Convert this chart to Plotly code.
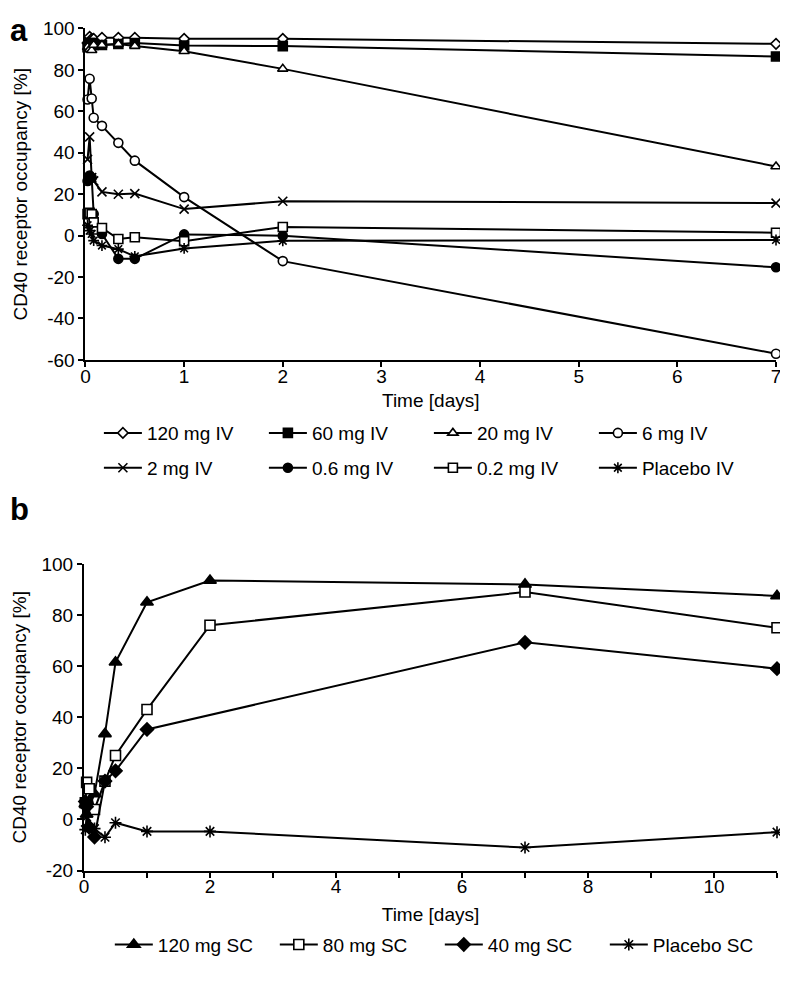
import plotly.graph_objects as go

# ---------------- data ----------------
time_iv = [0.021, 0.042, 0.063, 0.083, 0.167, 0.333, 0.5, 1, 2, 7]
iv_120 = [93, 96, 95, 95, 95.5, 95.5, 95.5, 95, 95, 92.6]
iv_60 = [91, 93, 93, 92, 92, 92.5, 93, 91.8, 91.5, 86.5]
iv_20 = [91, 90, 89.5, 92, 92, 92.5, 91.5, 89, 80.5, 33.4]
iv_6 = [65.7, 75.7, 66.2, 56.9, 53, 44.8, 36.2, 18.6, -12.3, -57]
iv_2 = [36.8, 47.7, 28, 26.4, 21.1, 20, 20.3, 12.8, 16.6, 15.7]
iv_06 = [26.4, 29, 28, 10.4, 0.8, -11.2, -11.2, 0.6, 0, -15.3]
iv_02 = [10.4, 11, 10.4, 6.4, 3.7, -1.6, -0.8, -2.7, 4.2, 1.4]
iv_pl = [5, 2.4, 0.8, -2.4, -4.8, -6.5, -10, -6.2, -2.5, -2.1]

time_sc = [0.021, 0.042, 0.083, 0.167, 0.333, 0.5, 1, 2, 7, 11]
sc_120 = [6, 2, 5, 10, 33.5, 61.5, 85, 93.5, 92, 87.5]
sc_80 = [6.5, 14.5, 12, 3.9, 15, 25, 43, 76, 89, 75]
sc_40 = [7, 5, -3, -6.9, 15, 19, 35.2, None, 69.3, 59]
sc_pl = [-4, 1, -3.5, -3.6, -7, -1.3, -4.7, -4.7, -11, -5]

names_iv = ["120 mg IV", "60 mg IV", "20 mg IV", "6 mg IV",
            "2 mg IV", "0.6 mg IV", "0.2 mg IV", "Placebo IV"]
names_sc = ["120 mg SC", "80 mg SC", "40 mg SC", "Placebo SC"]

a_xticks = [0, 1, 2, 3, 4, 5, 6, 7]
a_xlabels = ["0", "1", "2", "3", "4", "5", "6", "7"]
a_yticks = [100, 80, 60, 40, 20, 0, -20, -40, -60]
a_ylabels = ["100", "80", "60", "40", "20", "0", "-20", "-40", "-60"]
b_xticks = [0, 1, 2, 3, 4, 5, 6, 7, 8, 9, 10, 11]
b_xlabels = ["0", "", "2", "", "4", "", "6", "", "8", "", "10", ""]
b_yticks = [100, 80, 60, 40, 20, 0, -20]
b_ylabels = ["100", "80", "60", "40", "20", "0", "-20"]

# ---------------- layout geometry ----------------
# page coordinates (window 788x984); the page body has an 8px margin
OFF = 8
W, H = 788 - OFF, 984 - 2 * OFF
L, R, T, B = 84 - OFF, 782 - OFF, 20 - OFF, 871 - OFF
PW, PH = R - L, B - T


def fx(px):
    return (px - OFF - L) / PW


def fy(py):
    return (B - (py - OFF)) / PH


FONT = "Liberation Sans, Arial, sans-serif"
FS = 19
BLACK = "black"

fig = go.Figure()

iv_series = [iv_120, iv_60, iv_20, iv_6, iv_2, iv_06, iv_02, iv_pl]
iv_styles = [
    dict(symbol="diamond", size=8, color="white"),
    dict(symbol="square", size=9, color=BLACK),
    dict(symbol="triangle-up", size=9, color="white"),
    dict(symbol="circle", size=9, color="white"),
    dict(symbol="x-thin-open", size=9, color=BLACK),
    dict(symbol="circle", size=9, color=BLACK),
    dict(symbol="square", size=9, color="white"),
    dict(symbol="asterisk-open", size=9, color=BLACK),
]
for i, (ys, st, nm) in enumerate(zip(iv_series, iv_styles, names_iv)):
    fig.add_trace(go.Scatter(
        x=time_iv, y=ys, name=nm, mode="lines+markers", cliponaxis=False,
        line=dict(color=BLACK, width=2),
        marker=dict(symbol=st["symbol"], size=st["size"], color=st["color"],
                    line=dict(color=BLACK, width=1.6)),
        xaxis="x", yaxis="y",
        legend="legend" if i < 4 else "legend2",
    ))

sc_series = [sc_120, sc_80, sc_40, sc_pl]
sc_styles = [
    dict(symbol="triangle-up", size=11, color=BLACK),
    dict(symbol="square", size=10, color="white"),
    dict(symbol="diamond", size=10, color=BLACK),
    dict(symbol="asterisk-open", size=10, color=BLACK),
]
for ys, st, nm in zip(sc_series, sc_styles, names_sc):
    fig.add_trace(go.Scatter(
        x=time_sc, y=ys, name=nm, mode="lines+markers", connectgaps=True,
        cliponaxis=False,
        line=dict(color=BLACK, width=2),
        marker=dict(symbol=st["symbol"], size=st["size"], color=st["color"],
                    line=dict(color=BLACK, width=1.6)),
        xaxis="x2", yaxis="y2", legend="legend3",
    ))

axis_common = dict(
    showline=True, linecolor=BLACK, linewidth=2, showgrid=False, zeroline=False,
    ticks="outside", ticklen=5, tickwidth=2, tickcolor=BLACK,
    tickfont=dict(family=FONT, size=FS, color=BLACK),
    mirror=False,
)
title_font = dict(family=FONT, size=FS, color=BLACK)

legend_common = dict(
    orientation="h", font=dict(family=FONT, size=FS, color=BLACK),
    itemwidth=38, entrywidth=112, entrywidthmode="pixels",
    bgcolor="rgba(0,0,0,0)", borderwidth=0, xanchor="left", yanchor="middle",
    traceorder="normal", itemclick=False, itemdoubleclick=False,
)

fig.update_layout(
    width=W, height=H,
    margin=dict(l=L, r=W - R, t=T, b=H - B),
    paper_bgcolor="white", plot_bgcolor="white",
    font=dict(family=FONT, size=FS, color=BLACK),
    xaxis=dict(axis_common, domain=[fx(85.5), fx(781)], range=[0, 7],
               tickvals=a_xticks, ticktext=a_xlabels, anchor="y",
               ticklabelstandoff=-7,
               title=dict(text="Time [days]", standoff=8, font=title_font)),
    yaxis=dict(axis_common, domain=[fy(357.5), fy(24.5)], range=[-60, 100],
               tickvals=a_yticks, ticktext=a_ylabels, anchor="x",
               title=dict(text="CD40 receptor occupancy [%]", standoff=10,
                          font=title_font)),
    xaxis2=dict(axis_common, domain=[fx(84), fx(782)], range=[0, 11],
                tickvals=b_xticks, ticktext=b_xlabels, anchor="y2",
                ticklabelstandoff=-7,
                title=dict(text="Time [days]", standoff=11, font=title_font)),
    yaxis2=dict(axis_common, domain=[fy(870.5), fy(562.5)], range=[-20, 100],
                tickvals=b_yticks, ticktext=b_ylabels, anchor="x2",
                title=dict(text="CD40 receptor occupancy [%]", standoff=10,
                           font=title_font)),
    legend=dict(legend_common, x=fx(99), y=fy(431)),
    legend2=dict(legend_common, x=fx(99), y=fy(466)),
    legend3=dict(legend_common, x=fx(110), y=fy(945)),
    showlegend=True,
    annotations=[
        dict(text="<b>a</b>", x=fx(8), y=fy(8), xref="paper", yref="paper",
             xanchor="left", yanchor="top", showarrow=False, borderpad=0,
             font=dict(family=FONT, size=31, color=BLACK)),
        dict(text="<b>b</b>", x=fx(8), y=fy(508), xref="paper", yref="paper",
             xanchor="left", yanchor="middle", showarrow=False, borderpad=0,
             font=dict(family=FONT, size=31, color=BLACK)),
    ],
)

fig.write_html("out.html")
